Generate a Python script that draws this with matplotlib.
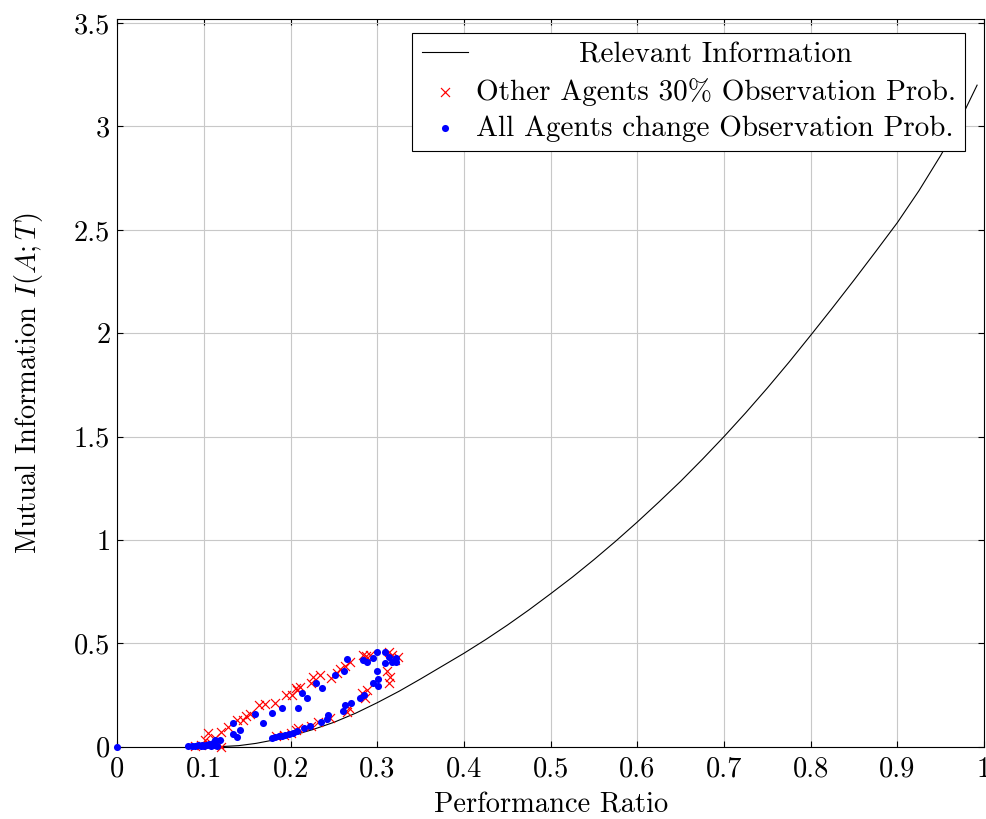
import matplotlib
matplotlib.use("Agg")
import matplotlib.pyplot as plt
from matplotlib.ticker import FuncFormatter, MultipleLocator

plt.rcParams['font.family'] = 'serif'
plt.rcParams['font.serif'] = ['cmr10']
plt.rcParams['mathtext.fontset'] = 'cm'
plt.rcParams['axes.formatter.use_mathtext'] = True

# curva de informacion relevante
curve_x = [0.118, 0.14, 0.16, 0.18, 0.2, 0.225, 0.25, 0.275, 0.3, 0.325,
           0.35, 0.375, 0.4, 0.425, 0.45, 0.475, 0.5, 0.525, 0.55, 0.575,
           0.6, 0.625, 0.65, 0.675, 0.7, 0.725, 0.75, 0.775, 0.8, 0.825,
           0.85, 0.875, 0.9, 0.925, 0.95, 0.97, 0.992]
curve_y = [0.0, 0.005, 0.016, 0.032, 0.052, 0.082, 0.118, 0.162, 0.213, 0.268,
           0.328, 0.39, 0.452, 0.518, 0.588, 0.662, 0.74, 0.82, 0.905, 0.994,
           1.087, 1.184, 1.284, 1.39, 1.5, 1.615, 1.735, 1.86, 1.99, 2.122,
           2.257, 2.395, 2.535, 2.69, 2.86, 3.01, 3.2]

# otros agentes 30%
red_x = [0.090, 0.097, 0.101, 0.105, 0.108, 0.113, 0.117, 0.120, 0.120,
         0.128, 0.138, 0.145, 0.149, 0.153, 0.163, 0.170, 0.182, 0.195, 0.201,
         0.206, 0.207, 0.211, 0.224, 0.226, 0.234, 0.247, 0.253, 0.257, 0.263,
         0.268, 0.283, 0.287, 0.292, 0.313, 0.317, 0.320, 0.324, 0.311, 0.315,
         0.313, 0.183, 0.192, 0.200, 0.206, 0.209, 0.223, 0.232, 0.245, 0.265,
         0.267, 0.282, 0.286, 0.288]
red_y = [0.003, 0.010, 0.032, 0.065, 0.020, 0.040, 0.012, 0.000, 0.073,
         0.094, 0.129, 0.129, 0.149, 0.160, 0.202, 0.207, 0.210, 0.250, 0.251,
         0.283, 0.275, 0.291, 0.307, 0.339, 0.348, 0.332, 0.356, 0.375, 0.391,
         0.412, 0.444, 0.440, 0.444, 0.460, 0.444, 0.420, 0.436, 0.364, 0.339,
         0.307, 0.050, 0.058, 0.065, 0.080, 0.089, 0.100, 0.121, 0.138, 0.170,
         0.186, 0.259, 0.235, 0.275]

# todos los agentes cambian
blue_x = [0.0, 0.082, 0.086, 0.090, 0.093, 0.096, 0.098, 0.100, 0.102, 0.104,
          0.106, 0.108, 0.110, 0.112, 0.113, 0.115, 0.119, 0.134, 0.134, 0.138,
          0.142, 0.159, 0.168, 0.179, 0.190, 0.208, 0.213, 0.219, 0.229, 0.236,
          0.251, 0.261, 0.265, 0.284, 0.288, 0.295, 0.300, 0.309, 0.313, 0.309,
          0.317, 0.322, 0.322, 0.300, 0.301, 0.295, 0.301, 0.178, 0.182, 0.186,
          0.190, 0.194, 0.198, 0.203, 0.207, 0.215, 0.222, 0.235, 0.242, 0.243,
          0.260, 0.263, 0.270, 0.280, 0.285]
blue_y = [0.0, 0.002, 0.004, 0.003, 0.006, 0.002, 0.008, 0.004, 0.010, 0.006,
          0.014, 0.004, 0.020, 0.008, 0.030, 0.003, 0.032, 0.113, 0.062, 0.046,
          0.081, 0.159, 0.113, 0.162, 0.186, 0.189, 0.259, 0.235, 0.310, 0.283,
          0.348, 0.367, 0.424, 0.417, 0.412, 0.428, 0.456, 0.460, 0.436, 0.407,
          0.412, 0.428, 0.412, 0.368, 0.327, 0.310, 0.294, 0.042, 0.046, 0.050,
          0.054, 0.058, 0.062, 0.068, 0.075, 0.089, 0.100, 0.121, 0.133, 0.154,
          0.175, 0.202, 0.210, 0.235, 0.251]

fs = 20.5

fig = plt.figure(figsize=(9.86, 8.19), dpi=100)
ax = fig.add_axes([0.119, 0.0883, 0.879, 0.8885])

ax.plot(curve_x, curve_y, color='black', lw=0.8, label='Relevant Information')
ax.scatter(red_x, red_y, marker='x', color='red', s=42, linewidths=0.85,
           label='Other Agents 30% Observation Prob.', zorder=3, clip_on=False)
ax.scatter(blue_x, blue_y, marker='o', color='blue', s=26, linewidths=0,
           label='All Agents change Observation Prob.', zorder=4, clip_on=False)

ax.set_xlim(0, 1)
ax.set_ylim(0, 3.52)
ax.xaxis.set_major_locator(MultipleLocator(0.1))
ax.yaxis.set_major_locator(MultipleLocator(0.5))
fmt = FuncFormatter(lambda v, p: '%g' % round(v, 2))
ax.xaxis.set_major_formatter(fmt)
ax.yaxis.set_major_formatter(fmt)
ax.tick_params(direction='in', length=4, width=0.8, labelsize=fs,
               top=True, right=True)
ax.tick_params(axis='x', pad=7)
ax.tick_params(axis='y', pad=5)
ax.grid(True, color='#c8c8c8', lw=0.8)
ax.set_axisbelow(True)
for s in ax.spines.values():
    s.set_linewidth(0.8)

ax.set_xlabel('Performance Ratio', fontsize=fs, labelpad=7)
ax.set_ylabel('Mutual Information $I(A;T)$', fontsize=fs, labelpad=21)

leg = ax.legend(loc='upper right', bbox_to_anchor=(0.978, 0.981), fontsize=21,
                fancybox=False, framealpha=1, edgecolor='black',
                handlelength=1.6, handletextpad=0.25, borderpad=0.32,
                labelspacing=0.32, borderaxespad=0, scatterpoints=1)
leg.get_frame().set_linewidth(0.8)

# centrar el primer texto como en pgfplots
fig.canvas.draw()
r = fig.canvas.get_renderer()
txts = leg.get_texts()
widths = [t.get_window_extent(r).width for t in txts]
txts[0].set_x((max(widths) - widths[0]) / 2)

fig.savefig('out.png', dpi=100)
